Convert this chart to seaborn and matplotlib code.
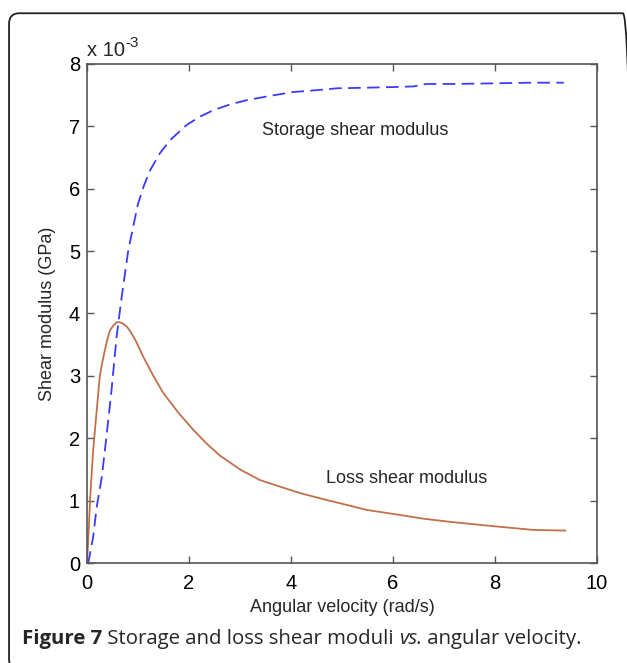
import numpy as np
import pandas as pd
import matplotlib.pyplot as plt
import seaborn as sns
from matplotlib.patches import FancyBboxPatch

# Storage shear modulus (x 10^-3 GPa) vs angular velocity (rad/s)
storage_w = [0.0, 0.03, 0.12, 0.19, 0.29, 0.38, 0.48, 0.58, 0.68, 0.81, 0.92, 1.0,
             1.12, 1.24, 1.43, 1.63, 1.95, 2.2, 2.48, 2.8, 3.13, 3.6, 4.04, 4.5,
             4.9, 5.5, 6.0, 6.4, 6.66, 7.2, 8.0, 8.7, 9.35]
storage_g = [0.0, 0.02, 0.42, 0.9, 1.38, 2.02, 2.77, 3.63, 4.27, 5.02, 5.45, 5.76,
             6.06, 6.30, 6.57, 6.78, 7.02, 7.15, 7.26, 7.35, 7.42, 7.49, 7.55, 7.58,
             7.61, 7.62, 7.63, 7.64, 7.68, 7.68, 7.69, 7.70, 7.70]

# Loss shear modulus (x 10^-3 GPa)
loss_w = [0.0, 0.03, 0.06, 0.09, 0.12, 0.19, 0.25, 0.30, 0.35, 0.40, 0.45, 0.52,
          0.58, 0.64, 0.70, 0.78, 0.86, 0.95, 1.1, 1.3, 1.5, 1.8, 2.09, 2.35,
          2.61, 3.0, 3.39, 3.8, 4.18, 4.7, 5.1, 5.49, 6.14, 6.6, 7.12, 7.6, 8.1,
          8.76, 9.38]
loss_g = [0.0, 0.48, 1.01, 1.42, 1.81, 2.45, 2.99, 3.22, 3.41, 3.59, 3.73, 3.81,
          3.86, 3.86, 3.84, 3.79, 3.70, 3.57, 3.31, 3.0, 2.72, 2.40, 2.13, 1.91,
          1.72, 1.50, 1.33, 1.22, 1.12, 1.01, 0.93, 0.85, 0.77, 0.71, 0.66, 0.62,
          0.58, 0.53, 0.52]

sns.set_style("white")
plt.rcParams['font.family'] = ['Liberation Sans', 'DejaVu Sans']

fig = plt.figure(figsize=(6.27, 6.63), dpi=100)
ax = fig.add_axes([0.1388, 0.1508, 0.8134, 0.7527])

storage = pd.DataFrame({'w': storage_w, 'G': storage_g})
loss = pd.DataFrame({'w': loss_w, 'G': loss_g})

sns.lineplot(data=storage, x='w', y='G', ax=ax, color='#3b3bff', lw=1.3,
             linestyle=(0, (7, 3.5)), sort=False)
sns.lineplot(data=loss, x='w', y='G', ax=ax, color='#c0704a', lw=1.3, sort=False)

ax.set_xlim(0, 10)
ax.set_ylim(0, 8)
ax.set_xticks([0, 2, 4, 6, 8, 10])
ax.set_yticks(range(0, 9))
ax.tick_params(direction='in', length=5, width=1, colors='#555555',
               labelcolor='black', labelsize=14.5, top=True, right=True,
               bottom=True, left=True, pad=5)
ax.tick_params(axis='x', pad=8)
for s in ax.spines.values():
    s.set_color('#555555')
    s.set_linewidth(1.2)

ax.set_xlabel('Angular velocity (rad/s)', fontsize=13, labelpad=4)
ax.set_ylabel('Shear modulus (GPa)', fontsize=13, labelpad=9)

xt = ax.text(0.0, 1.008, 'x 10', transform=ax.transAxes, fontsize=14.5,
             ha='left', va='bottom')
ax.annotate('-3', xy=(1, 0.55), xycoords=xt, fontsize=11, va='bottom',
            annotation_clip=False)
ax.text(3.43, 6.94, 'Storage shear modulus', fontsize=13, va='center')
ax.text(4.69, 1.35, 'Loss shear modulus', fontsize=13, va='center')

# caption
cap = ['Open Sans', 'DejaVu Sans']
fs = 14.7
t1 = fig.text(0.035, 0.028, 'Figure 7', fontsize=fs, fontweight='bold',
              family=cap, va='baseline')
t2 = ax.annotate(' Storage and loss shear moduli ', xy=(1, 0), xycoords=t1,
                 fontsize=fs, family=cap, va='bottom', annotation_clip=False)
t3 = ax.annotate('vs.', xy=(1, 0), xycoords=t2, fontsize=fs, family=cap,
                 style='italic', va='bottom', annotation_clip=False)
ax.annotate(' angular velocity.', xy=(1, 0), xycoords=t3, fontsize=fs,
            family=cap, va='bottom', annotation_clip=False)

# rounded frame around the figure
box = FancyBboxPatch((0.0144, -0.01), 0.995, 0.99,
                     boxstyle='round,pad=0,rounding_size=0.016',
                     transform=fig.transFigure, fill=False, ec='#222222',
                     lw=1.3, clip_on=False)
fig.patches.append(box)

fig.savefig('out.png', dpi=100)
